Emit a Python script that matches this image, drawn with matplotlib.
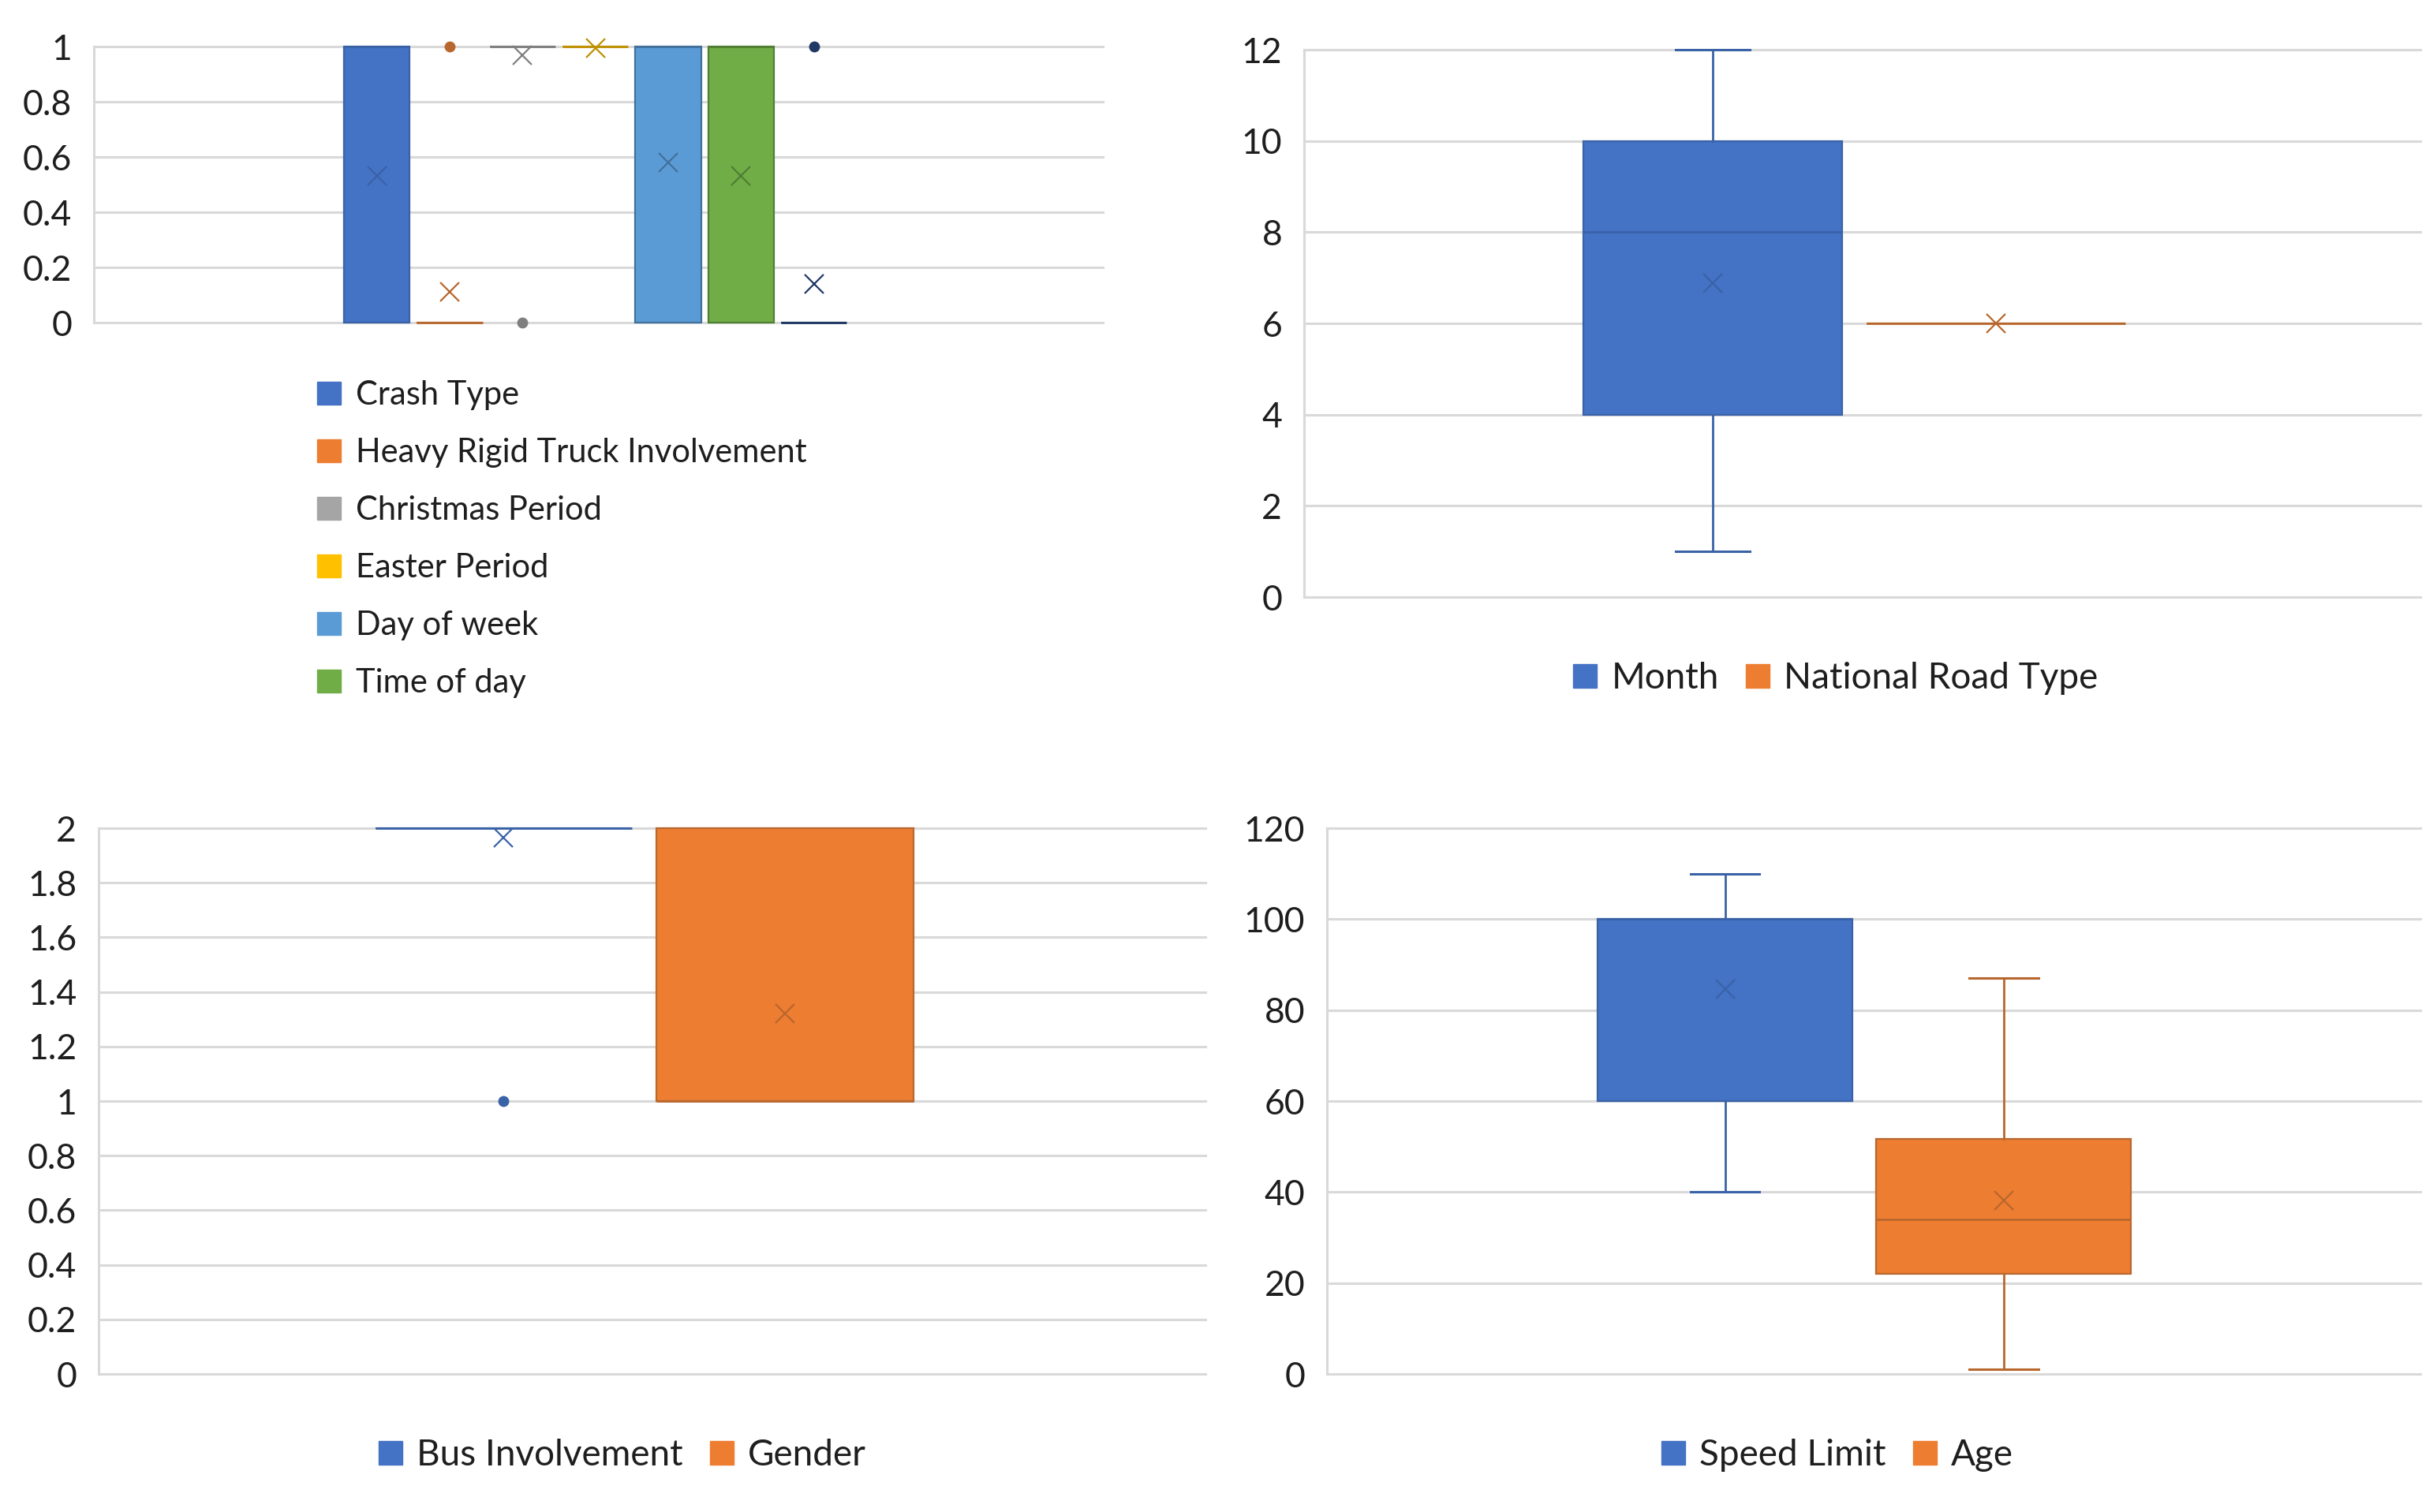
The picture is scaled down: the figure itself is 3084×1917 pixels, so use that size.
import matplotlib
matplotlib.use("Agg")
from matplotlib import pyplot as plt
from matplotlib.patches import Patch

plt.rcParams['font.family'] = ['Lato', 'DejaVu Sans']

# ---- data ----
# top left: binary variables (one box per series)
tl_names = ["Crash Type", "Heavy Rigid Truck Involvement", "Christmas Period",
            "Easter Period", "Day of week", "Time of day", ""]
tl_q1 = [0, 0, 1, 1, 0, 0, 0]
tl_med = [1, 0, 1, 1, 1, 1, 0]
tl_q3 = [1, 0, 1, 1, 1, 1, 0]
tl_lo = [0, 0, 1, 1, 0, 0, 0]
tl_hi = [1, 0, 1, 1, 1, 1, 0]
tl_mean = [0.53, 0.11, 0.97, 0.995, 0.58, 0.53, 0.14]
tl_fliers = [[], [1], [0], [], [], [], [1]]
tl_ticks = [0, 0.2, 0.4, 0.6, 0.8, 1]
tl_ticklabels = ["0", "0.2", "0.4", "0.6", "0.8", "1"]

# top right
tr_names = ["Month", "National Road Type"]
tr_q1 = [4, 6]
tr_med = [8, 6]
tr_q3 = [10, 6]
tr_lo = [1, 6]
tr_hi = [12, 6]
tr_mean = [6.88, 6.0]
tr_fliers = [[], []]
tr_ticks = [0, 2, 4, 6, 8, 10, 12]

# bottom left
bl_names = ["Bus Involvement", "Gender"]
bl_q1 = [2, 1]
bl_med = [2, 1]
bl_q3 = [2, 2]
bl_lo = [2, 1]
bl_hi = [2, 2]
bl_mean = [1.965, 1.32]
bl_fliers = [[1], []]
bl_ticks = [0, 0.2, 0.4, 0.6, 0.8, 1, 1.2, 1.4, 1.6, 1.8, 2]
bl_ticklabels = ["0", "0.2", "0.4", "0.6", "0.8", "1", "1.2", "1.4", "1.6", "1.8", "2"]

# bottom right
br_names = ["Speed Limit", "Age"]
br_q1 = [60, 22]
br_med = [100, 34]
br_q3 = [100, 51.6]
br_lo = [40, 1]
br_hi = [110, 87]
br_mean = [84.7, 38.2]
br_fliers = [[], []]
br_ticks = [0, 20, 40, 60, 80, 100, 120]

# Excel office palette + darker shades for lines
fills = ["#4472C4", "#ED7D31", "#A5A5A5", "#FFC000", "#5B9BD5", "#70AD47", "#264478"]
darks = ["#3A62A7", "#B8672E", "#7F7F7F", "#BF9000", "#41719C", "#507E32", "#1F3864"]

W, H = 3084, 1917
fig = plt.figure(figsize=(W / 100, H / 100), dpi=100)

GRID = "#D9D9D9"
TXT = "#1E1E1E"
FS_TICK = 32
FS_LEG = 33
FS_LEG_TL = 30


def style_axes(ax, ticks, labels, top):
    ax.set_xlim(0, 1)
    ax.set_ylim(0, top)
    ax.set_yticks(ticks)
    ax.set_yticklabels(labels, fontsize=FS_TICK, color=TXT)
    ax.set_xticks([])
    ax.tick_params(axis='y', length=0, pad=20)
    ax.yaxis.grid(True, color=GRID, lw=2.2)
    ax.set_axisbelow(True)
    for s in ["top", "right", "bottom"]:
        ax.spines[s].set_visible(False)
    ax.spines["left"].set_color(GRID)
    ax.spines["left"].set_linewidth(2.2)
    for gl in ax.yaxis.get_gridlines():
        gl.set_clip_on(False)


def draw_boxes(ax, q1, med, q3, lo, hi, mean, fliers, positions, width, capw):
    for i in range(len(q1)):
        stats = [dict(q1=q1[i], med=med[i], q3=q3[i], whislo=lo[i], whishi=hi[i],
                      mean=mean[i], fliers=fliers[i])]
        fc, dc = fills[i], darks[i]
        cw = 0 if (lo[i] == q1[i] and hi[i] == q3[i]) else capw
        res = ax.bxp(stats, positions=[positions[i]], widths=width, capwidths=cw,
                     patch_artist=True, showmeans=True, manage_ticks=False,
                     boxprops=dict(facecolor=fc, edgecolor=dc, linewidth=1.6),
                     medianprops=dict(color=dc, linewidth=2.0),
                     whiskerprops=dict(color=dc, linewidth=2.0),
                     capprops=dict(color=dc, linewidth=2.2),
                     meanprops=dict(marker='x', markeredgecolor=dc, markersize=17,
                                    markeredgewidth=1.6, linestyle='none'),
                     flierprops=dict(marker='o', markerfacecolor=dc, markeredgecolor=dc,
                                     markersize=9))
        for arts in res.values():
            for a in arts:
                a.set_clip_on(False)
                a.set_zorder(3)


def bottom_legend(handles, names, cx, cy):
    fig.legend(handles, names, loc='center', bbox_to_anchor=(cx / W, 1 - cy / H), ncol=2,
               frameon=False, fontsize=FS_LEG, handlelength=0.65, handleheight=0.65,
               handletextpad=0.4, columnspacing=0.75, borderpad=0, labelcolor=TXT)


# top left
ax1 = fig.add_axes([119 / W, 1 - 409 / H, (1398 - 119) / W, 350 / H])
style_axes(ax1, tl_ticks, tl_ticklabels, 1)
pos1 = [0.497 + (i - 3) * 0.0722 for i in range(len(tl_q1))]
draw_boxes(ax1, tl_q1, tl_med, tl_q3, tl_lo, tl_hi, tl_mean, tl_fliers, pos1, 0.065, 0.03)
h1 = [Patch(facecolor=fills[i], edgecolor=fills[i]) for i in range(6)]
fig.legend(h1, tl_names[:6], loc='upper left', bbox_to_anchor=(402 / W, 1 - 482 / H),
           frameon=False, fontsize=FS_LEG_TL, handlelength=0.72, handleheight=0.72,
           handletextpad=0.45, labelspacing=0.84, borderpad=0, borderaxespad=0,
           labelcolor=TXT)

# top right
ax2 = fig.add_axes([1653 / W, 1 - 757 / H, (3068 - 1653) / W, 694 / H])
style_axes(ax2, tr_ticks, [str(t) for t in tr_ticks], 12)
draw_boxes(ax2, tr_q1, tr_med, tr_q3, tr_lo, tr_hi, tr_mean, tr_fliers,
           [0.366, 0.62], 0.232, 0.066)
h2 = [Patch(facecolor=fills[i], edgecolor=fills[i]) for i in range(2)]
bottom_legend(h2, tr_names, 2327, 860)

# bottom left
ax3 = fig.add_axes([125 / W, 1 - 1742 / H, (1528 - 125) / W, 692 / H])
style_axes(ax3, bl_ticks, bl_ticklabels, 2)
draw_boxes(ax3, bl_q1, bl_med, bl_q3, bl_lo, bl_hi, bl_mean, bl_fliers,
           [0.366, 0.62], 0.232, 0.066)
bottom_legend(h2, bl_names, 789, 1845)

# bottom right
ax4 = fig.add_axes([1682 / W, 1 - 1742 / H, (3068 - 1682) / W, 692 / H])
style_axes(ax4, br_ticks, [str(t) for t in br_ticks], 120)
draw_boxes(ax4, br_q1, br_med, br_q3, br_lo, br_hi, br_mean, br_fliers,
           [0.364, 0.619], 0.233, 0.063)
bottom_legend(h2, br_names, 2329, 1845)

fig.savefig("out.png", dpi=100, facecolor="white")
